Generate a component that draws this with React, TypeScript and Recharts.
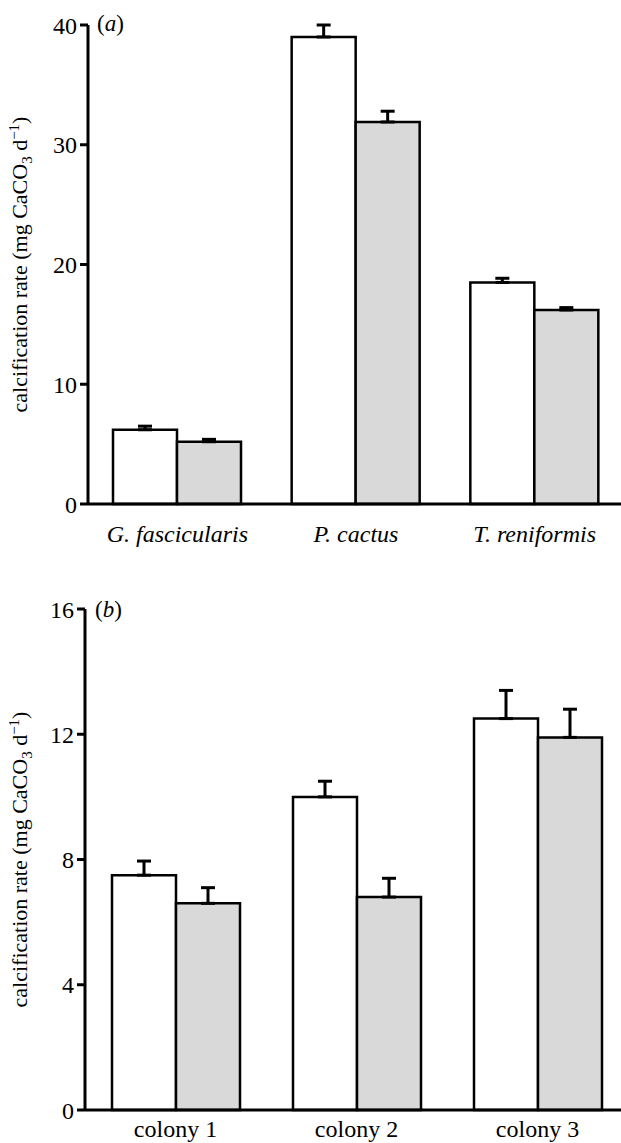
import React from 'react';
import { BarChart, Bar, XAxis, YAxis, ErrorBar, Customized } from 'recharts';

const FONT = '"Liberation Serif", "Times New Roman", serif';

// Panel (a)
const speciesCategories = ['G. fascicularis', 'P. cactus', 'T. reniformis'];
const speciesWhite = [6.2, 39.0, 18.5];
const speciesWhiteErr = [0.3, 1.0, 0.35];
const speciesGrey = [5.2, 31.9, 16.2];
const speciesGreyErr = [0.2, 0.9, 0.2];
const speciesTicks = [0, 10, 20, 30, 40];

// Panel (b)
const colonyCategories = ['colony 1', 'colony 2', 'colony 3'];
const colonyWhite = [7.5, 10.0, 12.5];
const colonyWhiteErr = [0.45, 0.5, 0.9];
const colonyGrey = [6.6, 6.8, 11.9];
const colonyGreyErr = [0.5, 0.6, 0.9];
const colonyTicks = [0, 4, 8, 12, 16];

const buildData = (cats: string[], w: number[], we: number[], g: number[], ge: number[]) =>
  cats.map((name, i) => ({
    name,
    white: w[i],
    whiteErr: [0, we[i]],
    grey: g[i],
    greyErr: [0, ge[i]],
  }));

const dataA = buildData(speciesCategories, speciesWhite, speciesWhiteErr, speciesGrey, speciesGreyErr);
const dataB = buildData(colonyCategories, colonyWhite, colonyWhiteErr, colonyGrey, colonyGreyErr);

const YLabel = (props: any) => {
  const vb = props.viewBox || {};
  const cx = (vb.x || 0) + 27;
  const cy = (vb.y || 0) + (vb.height || 0) / 2;
  return (
    <text
      x={cx}
      y={cy}
      transform={`rotate(-90, ${cx}, ${cy})`}
      textAnchor="middle"
      fontFamily={FONT}
      fontSize={22}
      fill="#000"
    >
      <tspan>calcification rate (mg CaCO</tspan>
      <tspan fontSize={15} dy={5}>3</tspan>
      <tspan dy={-5}> d</tspan>
      <tspan fontSize={15} dy={-8}>−1</tspan>
      <tspan dy={8}>)</tspan>
    </text>
  );
};

const PanelLabel = ({ letter, x, y }: { letter: string; x: number; y: number }) => (
  <text x={x} y={y} fontFamily={FONT} fontSize={23} fill="#000">
    <tspan>(</tspan>
    <tspan fontStyle="italic">{letter}</tspan>
    <tspan>)</tspan>
  </text>
);

const axisStroke = { stroke: '#000', strokeWidth: 3 };
const tickFont = { fill: '#000', fontSize: 24, fontFamily: FONT };

export default function App() {
  return (
    <div style={{ position: 'absolute', left: 0, top: 0, width: 621, height: 1143, background: '#fff', overflow: 'hidden' }}>
      <div style={{ position: 'absolute', left: 0, top: 0 }}>
        <BarChart
          width={621}
          height={580}
          data={dataA}
          margin={{ top: 25, right: -3, bottom: 36, left: 0 }}
          barSize={64}
          barGap={0}
        >
          <XAxis
            dataKey="name"
            height={40}
            tickLine={false}
            axisLine={axisStroke}
            tickSize={0}
            tickMargin={21}
            interval={0}
            tick={{ ...tickFont, fontStyle: 'italic' }}
          />
          <YAxis
            width={88}
            domain={[0, 40]}
            ticks={speciesTicks}
            interval={0}
            tickSize={8}
            tickMargin={3}
            tickLine={axisStroke}
            axisLine={axisStroke}
            tick={tickFont}
            label={{ content: <YLabel /> }}
          />
          <Bar dataKey="white" fill="#ffffff" stroke="#000" strokeWidth={2.5} isAnimationActive={false}>
            <ErrorBar dataKey="whiteErr" direction="y" width={7} stroke="#000" strokeWidth={3} />
          </Bar>
          <Bar dataKey="grey" fill="#d9d9d9" stroke="#000" strokeWidth={2.5} isAnimationActive={false}>
            <ErrorBar dataKey="greyErr" direction="y" width={7} stroke="#000" strokeWidth={3} />
          </Bar>
          <Customized component={() => <PanelLabel letter="a" x={97} y={31} />} />
        </BarChart>
      </div>
      <div style={{ position: 'absolute', left: 0, top: 580 }}>
        <BarChart
          width={621}
          height={563}
          data={dataB}
          margin={{ top: 29, right: -7, bottom: 0, left: 0 }}
          barSize={64}
          barGap={0}
        >
          <XAxis
            dataKey="name"
            height={33}
            tickLine={false}
            axisLine={axisStroke}
            tickSize={0}
            tickMargin={10}
            interval={0}
            tick={tickFont}
          />
          <YAxis
            width={85}
            domain={[0, 16]}
            ticks={colonyTicks}
            interval={0}
            tickSize={8}
            tickMargin={3}
            tickLine={axisStroke}
            axisLine={axisStroke}
            tick={tickFont}
            label={{ content: <YLabel /> }}
          />
          <Bar dataKey="white" fill="#ffffff" stroke="#000" strokeWidth={2.5} isAnimationActive={false}>
            <ErrorBar dataKey="whiteErr" direction="y" width={7} stroke="#000" strokeWidth={3} />
          </Bar>
          <Bar dataKey="grey" fill="#d9d9d9" stroke="#000" strokeWidth={2.5} isAnimationActive={false}>
            <ErrorBar dataKey="greyErr" direction="y" width={7} stroke="#000" strokeWidth={3} />
          </Bar>
          <Customized component={() => <PanelLabel letter="b" x={95} y={37} />} />
        </BarChart>
      </div>
    </div>
  );
}
